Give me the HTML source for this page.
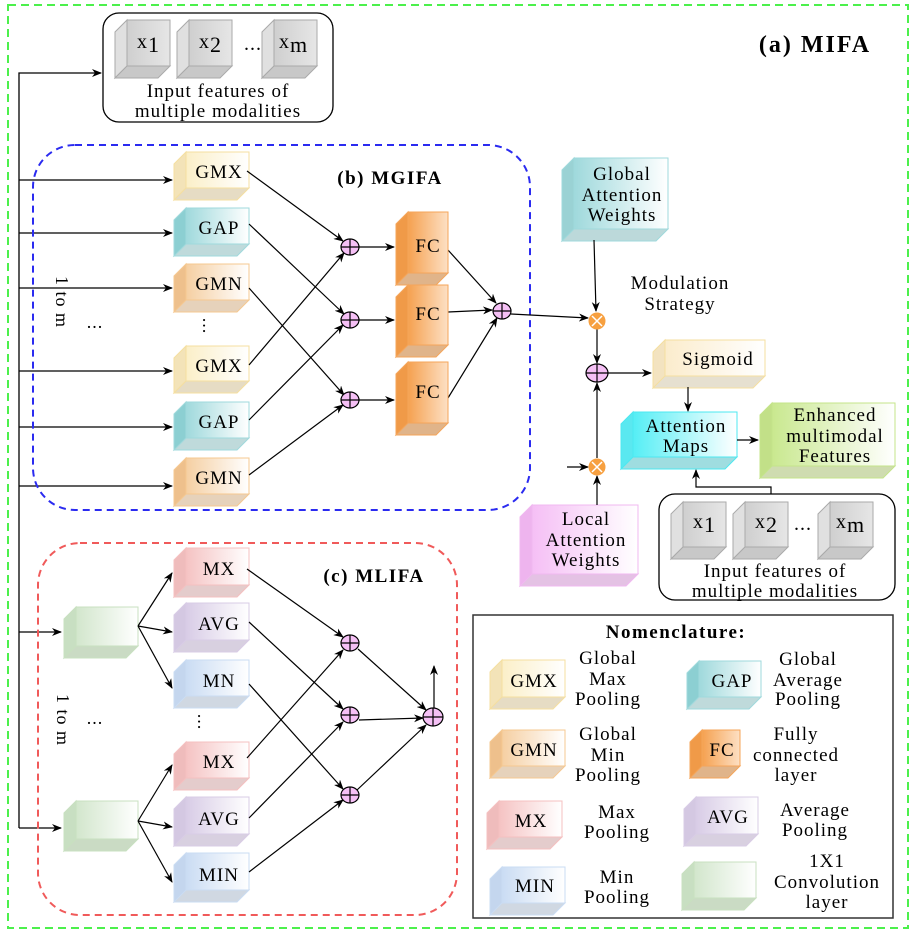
<!DOCTYPE html>
<html><head><meta charset="utf-8"><style>
html,body{margin:0;padding:0;background:#fff}
svg{display:block}
text{font-family:"Liberation Serif","DejaVu Serif",serif;letter-spacing:1px}
</style></head><body>
<svg width="913" height="934" viewBox="0 0 913 934" xmlns="http://www.w3.org/2000/svg">
<defs>
<marker id="ar" markerWidth="10" markerHeight="8" refX="9" refY="4" orient="auto" markerUnits="userSpaceOnUse"><path d="M0,0 L10,4 L0,8 L3,4 z" fill="#000"/></marker>
<linearGradient id="gy"><stop offset="0" stop-color="#fbefc8"/><stop offset="1" stop-color="#fff"/></linearGradient>
<linearGradient id="gt"><stop offset="0" stop-color="#9fd9dc"/><stop offset="1" stop-color="#fff"/></linearGradient>
<linearGradient id="go"><stop offset="0" stop-color="#f5cfa2"/><stop offset="1" stop-color="#fff"/></linearGradient>
<linearGradient id="gf"><stop offset="0" stop-color="#f5a150"/><stop offset="1" stop-color="#fde0c4"/></linearGradient>
<linearGradient id="gr"><stop offset="0" stop-color="#f5c3c3"/><stop offset="1" stop-color="#fff"/></linearGradient>
<linearGradient id="gv"><stop offset="0" stop-color="#d8cce6"/><stop offset="1" stop-color="#fff"/></linearGradient>
<linearGradient id="gb"><stop offset="0" stop-color="#cadcf3"/><stop offset="1" stop-color="#fff"/></linearGradient>
<linearGradient id="gg"><stop offset="0" stop-color="#d2e6cc"/><stop offset="1" stop-color="#fff"/></linearGradient>
<linearGradient id="gs"><stop offset="0" stop-color="#cfcfcf"/><stop offset="1" stop-color="#e6e6e6"/></linearGradient>
<linearGradient id="gp"><stop offset="0" stop-color="#f5bff5"/><stop offset="1" stop-color="#fff"/></linearGradient>
<linearGradient id="gc"><stop offset="0" stop-color="#55eef5"/><stop offset="1" stop-color="#fff"/></linearGradient>
<linearGradient id="ge"><stop offset="0" stop-color="#c9e88f"/><stop offset="1" stop-color="#fff"/></linearGradient>
<linearGradient id="gw"><stop offset="0" stop-color="#fbeccc"/><stop offset="1" stop-color="#fff"/></linearGradient>
</defs>

<rect x="8" y="5" width="900" height="923" fill="none" stroke="#4cf04c" stroke-width="2" stroke-dasharray="8,5"/>
<text x="815" y="52" font-size="24" font-weight="bold" text-anchor="middle" style="letter-spacing:2px">(a) MIFA</text>

<rect x="103" y="13" width="230" height="109" rx="16" fill="none" stroke="#000" stroke-width="1.3"/>
<g stroke="#aaa" stroke-width="1">
<polygon points="115,32 127,20 127,66 115,78" fill="#e0e0e0"/><polygon points="115,78 127,66 170,66 158,78" fill="#c8c8c8"/><rect x="127" y="20" width="43" height="46" fill="url(#gs)"/>
<polygon points="177,32 189,20 189,66 177,78" fill="#e0e0e0"/><polygon points="177,78 189,66 232,66 220,78" fill="#c8c8c8"/><rect x="189" y="20" width="43" height="46" fill="url(#gs)"/>
<polygon points="262,32 274,20 274,66 262,78" fill="#e0e0e0"/><polygon points="262,78 274,66 317,66 305,78" fill="#c8c8c8"/><rect x="274" y="20" width="43" height="46" fill="url(#gs)"/>
</g>
<g font-size="20"><text x="137" y="48">x<tspan font-size="22" dy="4">1</tspan></text><text x="199" y="48">x<tspan font-size="22" dy="4">2</tspan></text><text x="244" y="50">...</text><text x="279" y="48">x<tspan font-size="22" dy="4">m</tspan></text></g>
<text x="218" y="97" font-size="19" text-anchor="middle">Input features of</text>
<text x="218" y="117" font-size="19" text-anchor="middle">multiple modalities</text>

<g stroke="#000" stroke-width="1.3" fill="none">
<polyline points="19,828 19,73 101,73" marker-end="url(#ar)"/>
<line x1="19" y1="180" x2="172" y2="180" marker-end="url(#ar)"/>
<line x1="19" y1="233" x2="172" y2="233" marker-end="url(#ar)"/>
<line x1="19" y1="288" x2="172" y2="288" marker-end="url(#ar)"/>
<line x1="19" y1="371" x2="172" y2="371" marker-end="url(#ar)"/>
<line x1="19" y1="427" x2="172" y2="427" marker-end="url(#ar)"/>
<line x1="19" y1="486" x2="172" y2="486" marker-end="url(#ar)"/>
<line x1="19" y1="632" x2="61" y2="632" marker-end="url(#ar)"/>
<line x1="19" y1="828" x2="61" y2="828" marker-end="url(#ar)"/>
</g>

<rect x="33" y="145" width="497" height="365" rx="42" fill="none" stroke="#2b2bf0" stroke-width="2" stroke-dasharray="7,5"/>
<text x="390" y="184" font-size="19" font-weight="bold" text-anchor="middle" style="letter-spacing:1.5px">(b) MGIFA</text>
<text transform="translate(56,302) rotate(90)" font-size="18" text-anchor="middle">1 to m</text>
<text x="95" y="328" font-size="18" text-anchor="middle">...</text>
<text transform="translate(203,326) rotate(90)" font-size="18" text-anchor="middle">...</text>

<g stroke-width="1">
<g stroke="#f5dfa0"><polygon points="174,164 186,152 186,188 174,200" fill="#f3e3b8"/><polygon points="174,200 186,188 249,188 237,200" fill="#e6dcc4"/><rect x="186" y="152" width="63" height="36" fill="url(#gy)"/></g>
<g stroke="#9fd9dc"><polygon points="174,220 186,208 186,244 174,256" fill="#8ccfd2"/><polygon points="174,256 186,244 249,244 237,256" fill="#bfdadb"/><rect x="186" y="208" width="63" height="36" fill="url(#gt)"/></g>
<g stroke="#f5c890"><polygon points="174,276 186,264 186,300 174,312" fill="#eec08c"/><polygon points="174,312 186,300 249,300 237,312" fill="#e6d2bb"/><rect x="186" y="264" width="63" height="36" fill="url(#go)"/></g>
<g stroke="#f5dfa0"><polygon points="174,358 186,346 186,381 174,393" fill="#f3e3b8"/><polygon points="174,393 186,381 249,381 237,393" fill="#e6dcc4"/><rect x="186" y="346" width="63" height="35" fill="url(#gy)"/></g>
<g stroke="#9fd9dc"><polygon points="174,414 186,402 186,438 174,450" fill="#8ccfd2"/><polygon points="174,450 186,438 249,438 237,450" fill="#bfdadb"/><rect x="186" y="402" width="63" height="36" fill="url(#gt)"/></g>
<g stroke="#f5c890"><polygon points="174,470 186,458 186,494 174,506" fill="#eec08c"/><polygon points="174,506 186,494 249,494 237,506" fill="#e6d2bb"/><rect x="186" y="458" width="63" height="36" fill="url(#go)"/></g>
</g>
<g font-size="19" text-anchor="middle"><text x="219" y="178">GMX</text><text x="219" y="234">GAP</text><text x="219" y="290">GMN</text><text x="219" y="372">GMX</text><text x="219" y="428">GAP</text><text x="219" y="484">GMN</text></g>

<g stroke="#000" stroke-width="1.2" fill="none">
<line x1="247" y1="171" x2="343" y2="241" marker-end="url(#ar)"/>
<line x1="249" y1="224" x2="344" y2="314" marker-end="url(#ar)"/>
<line x1="249" y1="288" x2="344" y2="395" marker-end="url(#ar)"/>
<line x1="249" y1="365" x2="344" y2="253" marker-end="url(#ar)"/>
<line x1="249" y1="420" x2="343" y2="325" marker-end="url(#ar)"/>
<line x1="249" y1="475" x2="343" y2="405" marker-end="url(#ar)"/>
<line x1="359" y1="247" x2="394" y2="247" marker-end="url(#ar)"/>
<line x1="359" y1="320" x2="394" y2="320" marker-end="url(#ar)"/>
<line x1="359" y1="400" x2="394" y2="400" marker-end="url(#ar)"/>
<line x1="448" y1="250" x2="496" y2="303" marker-end="url(#ar)"/>
<line x1="448" y1="312" x2="492" y2="310" marker-end="url(#ar)"/>
<line x1="448" y1="398" x2="497" y2="318" marker-end="url(#ar)"/>
<polyline points="511,314 588,318" marker-end="url(#ar)"/>
</g>
<g stroke="#f5a55a" stroke-width="1">
<polygon points="396,224 408,212 408,273 396,285" fill="#f09a48"/><polygon points="396,285 408,273 448,273 436,285" fill="#e0b48a"/><rect x="408" y="212" width="40" height="61" fill="url(#gf)"/>
<polygon points="396,297 408,285 408,345 396,357" fill="#f09a48"/><polygon points="396,357 408,345 448,345 436,357" fill="#e0b48a"/><rect x="408" y="285" width="40" height="60" fill="url(#gf)"/>
<polygon points="396,374 408,362 408,423 396,435" fill="#f09a48"/><polygon points="396,435 408,423 448,423 436,435" fill="#e0b48a"/><rect x="408" y="362" width="40" height="61" fill="url(#gf)"/>
</g>
<g font-size="19" text-anchor="middle"><text x="428" y="252">FC</text><text x="428" y="320">FC</text><text x="428" y="398">FC</text></g>

<g stroke="#000" stroke-width="1.2" fill="#f5c0f5">
<ellipse cx="350" cy="247" rx="9" ry="8"/><path d="M341,247H359M350,239V255"/>
<ellipse cx="350" cy="320" rx="9" ry="8"/><path d="M341,320H359M350,312V328"/>
<ellipse cx="350" cy="400" rx="9" ry="8"/><path d="M341,400H359M350,392V408"/>
<ellipse cx="502" cy="311" rx="9" ry="8"/><path d="M493,311H511M502,303V319"/>
<ellipse cx="350" cy="643" rx="9" ry="8"/><path d="M341,643H359M350,635V651"/>
<ellipse cx="350" cy="715" rx="9" ry="8"/><path d="M341,715H359M350,707V723"/>
<ellipse cx="350" cy="795" rx="9" ry="8"/><path d="M341,795H359M350,787V803"/>
<ellipse cx="433" cy="717" rx="10" ry="9"/><path d="M423,717H443M433,708V726"/>
<ellipse cx="597" cy="373" rx="11" ry="9"/><path d="M586,373H608M597,364V382"/>
</g>

<g stroke-width="1">
<g stroke="#9fd9dc"><polygon points="562,170 574,158 574,229 562,241" fill="#9ad2d4"/><polygon points="562,241 574,229 668,229 656,241" fill="#bcd9da"/><rect x="574" y="158" width="94" height="71" fill="url(#gt)"/></g>
<g stroke="#f5dfa0"><polygon points="653,352 665,340 665,376 653,388" fill="#f3e3c0"/><polygon points="653,388 665,376 765,376 753,388" fill="#e6e0d0"/><rect x="665" y="340" width="100" height="36" fill="url(#gw)"/></g>
<g stroke="#4ce8f0"><polygon points="621,424 633,412 633,457 621,469" fill="#5ae8f0"/><polygon points="621,469 633,457 737,457 725,469" fill="#9fdde0"/><rect x="633" y="412" width="104" height="45" fill="url(#gc)"/></g>
<g stroke="#c4e48a"><polygon points="760,415 772,403 772,466 760,478" fill="#c2e088"/><polygon points="760,478 772,466 895,466 883,478" fill="#cfdcb0"/><rect x="772" y="403" width="123" height="63" fill="url(#ge)"/></g>
<g stroke="#f0b8f0"><polygon points="520,517 532,505 532,574 520,586" fill="#eeb4ee"/><polygon points="520,586 532,574 638,574 626,586" fill="#e4c2e4"/><rect x="532" y="505" width="106" height="69" fill="url(#gp)"/></g>
</g>
<g font-size="19" text-anchor="middle">
<text x="622" y="180">Global</text><text x="622" y="201">Attention</text><text x="622" y="221">Weights</text>
<text x="680" y="289">Modulation</text><text x="680" y="310">Strategy</text>
<text x="718" y="365">Sigmoid</text>
<text x="686" y="432">Attention</text><text x="686" y="452">Maps</text>
<text x="835" y="421">Enhanced</text><text x="835" y="442">multimodal</text><text x="835" y="462">Features</text>
<text x="586" y="525">Local</text><text x="586" y="546">Attention</text><text x="586" y="566">Weights</text>
</g>
<g stroke="#000" stroke-width="1.2" fill="none">
<line x1="594" y1="240" x2="596" y2="311" marker-end="url(#ar)"/>
<line x1="597" y1="329" x2="597" y2="363" marker-end="url(#ar)"/>
<line x1="608" y1="373" x2="651" y2="373" marker-end="url(#ar)"/>
<line x1="688" y1="387" x2="688" y2="411" marker-end="url(#ar)"/>
<line x1="737" y1="440" x2="758" y2="440" marker-end="url(#ar)"/>
<line x1="567" y1="467" x2="588" y2="467" marker-end="url(#ar)"/>
<line x1="597" y1="505" x2="597" y2="476" marker-end="url(#ar)"/>
<line x1="597" y1="458" x2="597" y2="383" marker-end="url(#ar)"/>
<polyline points="771,494 771,487 696,487 696,470" marker-end="url(#ar)"/>
</g>
<g fill="#f7a040" stroke="#f7a040" stroke-width="1">
<circle cx="597" cy="321" r="8"/><circle cx="597" cy="467" r="8"/></g>
<g stroke="#fff" stroke-width="1.5"><path d="M592,316L602,326M602,316L592,326M592,462L602,472M602,462L592,472"/></g>

<rect x="659" y="494" width="236" height="106" rx="16" fill="none" stroke="#000" stroke-width="1.3"/>
<g stroke="#aaa" stroke-width="1">
<polygon points="671,514 683,502 683,547 671,559" fill="#e0e0e0"/><polygon points="671,559 683,547 726,547 714,559" fill="#c8c8c8"/><rect x="683" y="502" width="43" height="45" fill="url(#gs)"/>
<polygon points="733,514 745,502 745,547 733,559" fill="#e0e0e0"/><polygon points="733,559 745,547 788,547 776,559" fill="#c8c8c8"/><rect x="745" y="502" width="43" height="45" fill="url(#gs)"/>
<polygon points="818,514 830,502 830,547 818,559" fill="#e0e0e0"/><polygon points="818,559 830,547 873,547 861,559" fill="#c8c8c8"/><rect x="830" y="502" width="43" height="45" fill="url(#gs)"/>
</g>
<g font-size="20"><text x="693" y="528">x<tspan font-size="22" dy="4">1</tspan></text><text x="755" y="528">x<tspan font-size="22" dy="4">2</tspan></text><text x="794" y="530">...</text><text x="836" y="528">x<tspan font-size="22" dy="4">m</tspan></text></g>
<text x="775" y="577" font-size="19" text-anchor="middle">Input features of</text>
<text x="775" y="597" font-size="19" text-anchor="middle">multiple modalities</text>

<rect x="38" y="543" width="419" height="372" rx="42" fill="none" stroke="#f05a5a" stroke-width="2" stroke-dasharray="7,5"/>
<text x="374" y="582" font-size="19" font-weight="bold" text-anchor="middle" style="letter-spacing:1.5px">(c) MLIFA</text>
<text transform="translate(57,720) rotate(90)" font-size="18" text-anchor="middle">1 to m</text>
<text x="95" y="724" font-size="18" text-anchor="middle">...</text>
<text transform="translate(198,722) rotate(90)" font-size="18" text-anchor="middle">...</text>
<g stroke-width="1">
<g stroke="#c8e0c0"><polygon points="64,619 76,607 76,646 64,658" fill="#c8dfc2"/><polygon points="64,658 76,646 138,646 126,658" fill="#cadbc4"/><rect x="76" y="607" width="62" height="39" fill="url(#gg)"/></g>
<g stroke="#c8e0c0"><polygon points="64,813 76,801 76,839 64,851" fill="#c8dfc2"/><polygon points="64,851 76,839 138,839 126,851" fill="#cadbc4"/><rect x="76" y="801" width="62" height="38" fill="url(#gg)"/></g>
<g stroke="#f5c0c0"><polygon points="174,560 186,548 186,585 174,597" fill="#efbcbc"/><polygon points="174,597 186,585 249,585 237,597" fill="#e4cccc"/><rect x="186" y="548" width="63" height="37" fill="url(#gr)"/></g>
<g stroke="#d8cce6"><polygon points="174,615 186,603 186,640 174,652" fill="#d4c8e2"/><polygon points="174,652 186,640 249,640 237,652" fill="#d8d0e0"/><rect x="186" y="603" width="63" height="37" fill="url(#gv)"/></g>
<g stroke="#cadcf3"><polygon points="174,672 186,660 186,696 174,708" fill="#c4d6ee"/><polygon points="174,708 186,696 249,696 237,708" fill="#d0d8e2"/><rect x="186" y="660" width="63" height="36" fill="url(#gb)"/></g>
<g stroke="#f5c0c0"><polygon points="174,754 186,742 186,778 174,790" fill="#efbcbc"/><polygon points="174,790 186,778 249,778 237,790" fill="#e4cccc"/><rect x="186" y="742" width="63" height="36" fill="url(#gr)"/></g>
<g stroke="#d8cce6"><polygon points="174,809 186,797 186,834 174,846" fill="#d4c8e2"/><polygon points="174,846 186,834 249,834 237,846" fill="#d8d0e0"/><rect x="186" y="797" width="63" height="37" fill="url(#gv)"/></g>
<g stroke="#cadcf3"><polygon points="174,865 186,853 186,890 174,902" fill="#c4d6ee"/><polygon points="174,902 186,890 249,890 237,902" fill="#d0d8e2"/><rect x="186" y="853" width="63" height="37" fill="url(#gb)"/></g>
</g>
<g font-size="19" text-anchor="middle"><text x="219" y="575">MX</text><text x="219" y="630">AVG</text><text x="219" y="687">MN</text><text x="219" y="768">MX</text><text x="219" y="825">AVG</text><text x="219" y="881">MIN</text></g>
<g stroke="#000" stroke-width="1.2" fill="none">
<line x1="138" y1="626" x2="172" y2="573" marker-end="url(#ar)"/>
<line x1="138" y1="626" x2="172" y2="632" marker-end="url(#ar)"/>
<line x1="138" y1="626" x2="172" y2="688" marker-end="url(#ar)"/>
<line x1="138" y1="821" x2="172" y2="765" marker-end="url(#ar)"/>
<line x1="138" y1="821" x2="172" y2="827" marker-end="url(#ar)"/>
<line x1="138" y1="821" x2="172" y2="882" marker-end="url(#ar)"/>
<line x1="247" y1="569" x2="343" y2="637" marker-end="url(#ar)"/>
<line x1="249" y1="622" x2="343" y2="709" marker-end="url(#ar)"/>
<line x1="249" y1="684" x2="343" y2="789" marker-end="url(#ar)"/>
<line x1="247" y1="758" x2="343" y2="650" marker-end="url(#ar)"/>
<line x1="249" y1="818" x2="343" y2="722" marker-end="url(#ar)"/>
<line x1="249" y1="872" x2="343" y2="800" marker-end="url(#ar)"/>
<line x1="358" y1="649" x2="426" y2="710" marker-end="url(#ar)"/>
<line x1="359" y1="720" x2="423" y2="718" marker-end="url(#ar)"/>
<line x1="357" y1="790" x2="426" y2="725" marker-end="url(#ar)"/>
<line x1="434" y1="708" x2="434" y2="666" marker-end="url(#ar)"/>
</g>

<rect x="473" y="615" width="420" height="303" fill="none" stroke="#333" stroke-width="1.5"/>
<text x="676" y="638" font-size="19" font-weight="bold" text-anchor="middle" style="letter-spacing:1.5px">Nomenclature:</text>
<g stroke-width="1">
<g stroke="#f5dfa0"><polygon points="490,672 502,660 502,697 490,709" fill="#f3e3b8"/><polygon points="490,709 502,697 565,697 553,709" fill="#e6dcc4"/><rect x="502" y="660" width="63" height="37" fill="url(#gy)"/></g>
<g stroke="#9fd9dc"><polygon points="687,673 699,661 699,697 687,709" fill="#8ccfd2"/><polygon points="687,709 699,697 761,697 749,709" fill="#bfdadb"/><rect x="699" y="661" width="62" height="36" fill="url(#gt)"/></g>
<g stroke="#f5c890"><polygon points="490,742 502,730 502,766 490,778" fill="#eec08c"/><polygon points="490,778 502,766 565,766 553,778" fill="#e6d2bb"/><rect x="502" y="730" width="63" height="36" fill="url(#go)"/></g>
<g stroke="#f5a55a"><polygon points="690,742 702,730 702,766 690,778" fill="#f09a48"/><polygon points="690,778 702,766 740,766 728,778" fill="#e0b48a"/><rect x="702" y="730" width="38" height="36" fill="url(#gf)"/></g>
<g stroke="#f5c0c0"><polygon points="487,813 499,801 499,837 487,849" fill="#efbcbc"/><polygon points="487,849 499,837 562,837 550,849" fill="#e4cccc"/><rect x="499" y="801" width="63" height="36" fill="url(#gr)"/></g>
<g stroke="#d8cce6"><polygon points="684,809 696,797 696,834 684,846" fill="#d4c8e2"/><polygon points="684,846 696,834 758,834 746,846" fill="#d8d0e0"/><rect x="696" y="797" width="62" height="37" fill="url(#gv)"/></g>
<g stroke="#cadcf3"><polygon points="490,879 502,867 502,903 490,915" fill="#c4d6ee"/><polygon points="490,915 502,903 565,903 553,915" fill="#d0d8e2"/><rect x="502" y="867" width="63" height="36" fill="url(#gb)"/></g>
<g stroke="#c8e0c0"><polygon points="682,874 694,862 694,898 682,910" fill="#c8dfc2"/><polygon points="682,910 694,898 756,898 744,910" fill="#cadbc4"/><rect x="694" y="862" width="62" height="36" fill="url(#gg)"/></g>
</g>
<g font-size="19" text-anchor="middle">
<text x="534" y="687">GMX</text><text x="732" y="687">GAP</text>
<text x="534" y="756">GMN</text><text x="722" y="756">FC</text>
<text x="531" y="827">MX</text><text x="728" y="823">AVG</text>
<text x="535" y="892">MIN</text>
<text x="608" y="664">Global</text><text x="608" y="685">Max</text><text x="608" y="705">Pooling</text>
<text x="808" y="665">Global</text><text x="808" y="686">Average</text><text x="808" y="705">Pooling</text>
<text x="608" y="740">Global</text><text x="608" y="761">Min</text><text x="608" y="781">Pooling</text>
<text x="796" y="740">Fully</text><text x="796" y="761">connected</text><text x="796" y="781">layer</text>
<text x="617" y="818">Max</text><text x="617" y="838">Pooling</text>
<text x="815" y="816">Average</text><text x="815" y="836">Pooling</text>
<text x="617" y="883">Min</text><text x="617" y="903">Pooling</text>
<text x="827" y="867">1X1</text><text x="827" y="888">Convolution</text><text x="827" y="908">layer</text>
</g>
</svg>
</body></html>
